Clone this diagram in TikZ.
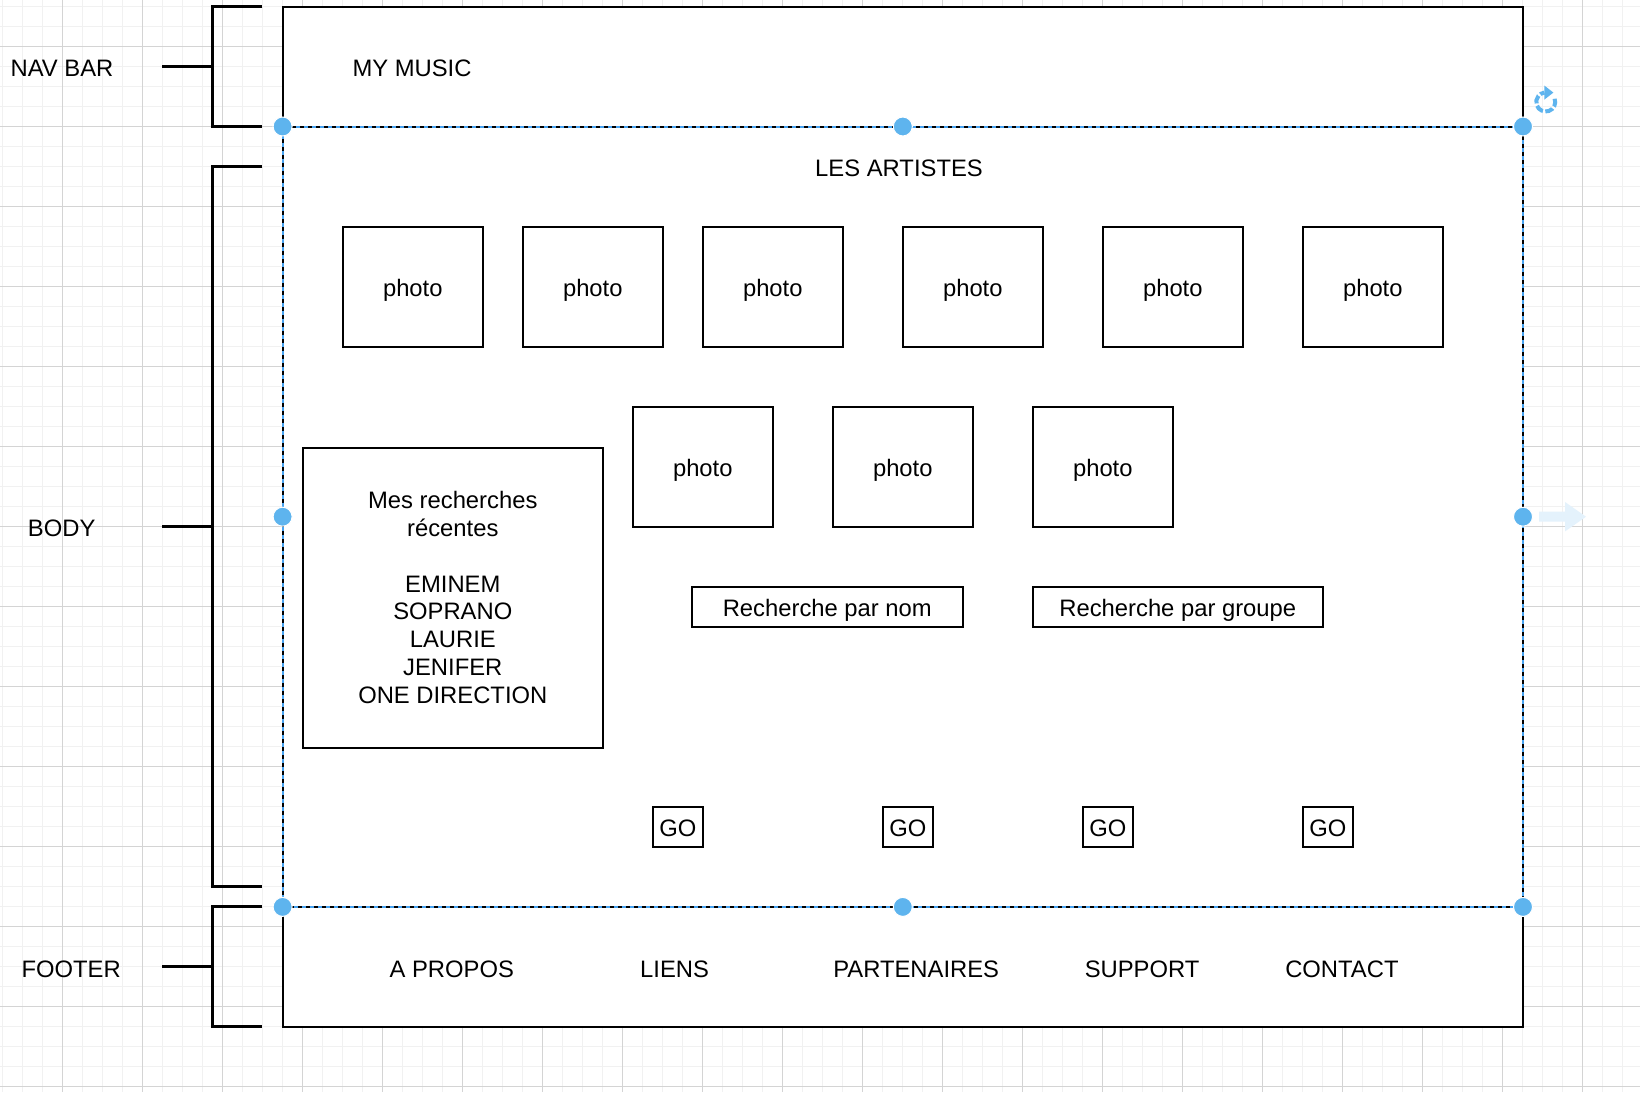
\documentclass[tikz,border=0pt]{standalone}
\usepackage{fontspec}
\setmainfont{Liberation Sans}
\usetikzlibrary{arrows.meta,calc}
\definecolor{gridminor}{RGB}{241,241,241}
\definecolor{gridmajor}{RGB}{212,212,212}
\definecolor{selblue}{RGB}{72,163,240}
\definecolor{handlecol}{RGB}{94,180,238}
\definecolor{hintblue}{RGB}{228,242,252}
\tikzset{
  wbox/.style={draw=black, line width=2pt, fill=white, inner sep=0pt, align=center},
  onel/.style={text height=19pt, text depth=0pt},
  photobox/.style={wbox, onel, minimum width=140pt, minimum height=120pt},
  gobox/.style={wbox, onel, minimum width=50pt, minimum height=40pt},
  searchbox/.style={wbox, onel, minimum height=40pt},
  txt/.style={inner sep=0pt, align=center, onel},
  bracket/.style={draw=black, line width=3.5pt},
  selline/.style={draw=selblue, line width=2pt, dash pattern=on 4pt off 4pt},
  handle/.style={fill=handlecol, draw=white, line width=1pt},
}
\begin{document}
\begin{tikzpicture}[x=1pt, y=-1pt, font=\fontsize{23.8}{27.9}\selectfont]
\useasboundingbox (0,0) rectangle (1640,1092);
\fill[white] (0,0) rectangle (1640,1092);
% grid
\foreach \k in {0,...,81} {\draw[gridminor, line width=1pt] (2.3+20*\k,0) -- (2.3+20*\k,1092);}
\foreach \k in {0,...,54} {\draw[gridminor, line width=1pt] (0,6.7+20*\k) -- (1640,6.7+20*\k);}
\foreach \k in {0,...,20} {\draw[gridmajor, line width=1pt] (62.3+80*\k,0) -- (62.3+80*\k,1092);}
\foreach \k in {0,...,13} {\draw[gridmajor, line width=1pt] (0,46.7+80*\k) -- (1640,46.7+80*\k);}

% page
\node[wbox, minimum width=1240pt, minimum height=1020pt] (page) at (902.8,516.7) {};
\node[inner sep=0pt, minimum width=1240pt, minimum height=780pt] (body) at (902.8,516.7) {};

% nav bar
\node[txt] (mymusic) at (412,66.7) {MY MUSIC};

% body
\node[txt] (artistes) at (899,167.3) {LES ARTISTES};
\node[photobox] (p1) at (412.8,286.7) {photo};
\node[photobox] (p2) at (592.8,286.7) {photo};
\node[photobox] (p3) at (772.8,286.7) {photo};
\node[photobox] (p4) at (972.8,286.7) {photo};
\node[photobox] (p5) at (1172.8,286.7) {photo};
\node[photobox] (p6) at (1372.8,286.7) {photo};
\node[photobox] (p7) at (702.8,466.7) {photo};
\node[photobox] (p8) at (902.8,466.7) {photo};
\node[photobox] (p9) at (1102.8,466.7) {photo};

\node[wbox, minimum width=300pt, minimum height=300pt] (recent) at (452.8,597.5) {Mes recherches\\r\'ecentes\\ \\EMINEM\\SOPRANO\\LAURIE\\JENIFER\\ONE DIRECTION};

\node[searchbox, minimum width=271pt] (rnom) at (827.3,606.7) {Recherche par nom};
\node[searchbox, minimum width=290pt] (rgroupe) at (1177.8,606.7) {Recherche par groupe};

\node[gobox] (go1) at (677.8,826.7) {GO};
\node[gobox] (go2) at (907.8,826.7) {GO};
\node[gobox] (go3) at (1107.8,826.7) {GO};
\node[gobox] (go4) at (1327.8,826.7) {GO};

% footer
\node[txt] (apropos) at (451.8,967.5) {A PROPOS};
\node[txt] (liens) at (674.6,967.5) {LIENS};
\node[txt] (partenaires) at (916.2,967.5) {PARTENAIRES};
\node[txt] (support) at (1142.1,967.5) {SUPPORT};
\node[txt] (contact) at (1341.9,967.5) {CONTACT};

% selection of body
\draw[black, line width=2pt] (body.north west) rectangle (body.south east);
\draw[selline] (body.north west) rectangle (body.south east);
\foreach \a in {north west, north, north east, west, east, south west, south, south east}
  {\fill[handle] (body.\a) circle (9.5pt);}

% rotate icon
\coordinate (rot) at (1545.7,102);
\draw[handlecol, line width=4pt, dash pattern=on 8pt off 2.5pt]
  ($(rot)+(-20:9.5)$) arc (-20:262:9.5);
\fill[handlecol] ($(rot)+(262:9.5)+(0,-7)$) -- ($(rot)+(262:9.5)+(9,0)$) -- ($(rot)+(262:9.5)+(0,7)$) -- cycle;
% connection hint arrow
\fill[hintblue] (1539,511.7) -- (1565,511.7) -- (1565,502) -- (1586,516.7) -- (1565,531.4) -- (1565,521.7) -- (1539,521.7) -- cycle;

% labels and brackets
\node[txt] (navlbl) at (62,66.7) {NAV BAR};
\node[txt] (bodylbl) at (61.7,527.1) {BODY};
\node[txt] (footlbl) at (71.1,967.5) {FOOTER};

\draw[bracket] (262.3,6.7) -- (212.3,6.7) -- (212.3,126.7) -- (262.3,126.7);
\draw[bracket] (162.3,66.7) -- (212.3,66.7);
\draw[bracket] (262.3,166.7) -- (212.3,166.7) -- (212.3,886.7) -- (262.3,886.7);
\draw[bracket] (162.3,526.7) -- (212.3,526.7);
\draw[bracket] (262.3,906.7) -- (212.3,906.7) -- (212.3,1026.7) -- (262.3,1026.7);
\draw[bracket] (162.3,966.7) -- (212.3,966.7);
\end{tikzpicture}
\end{document}
